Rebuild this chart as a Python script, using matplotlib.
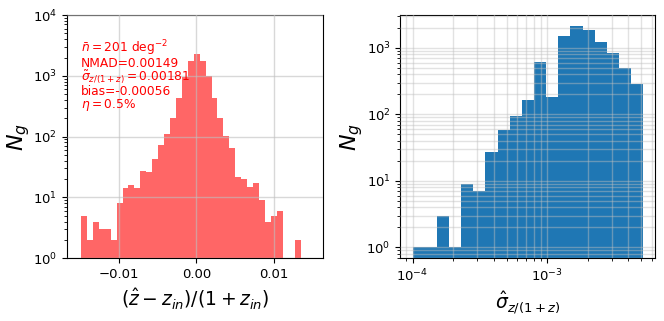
import numpy as np
import matplotlib
matplotlib.use("Agg")
import matplotlib.pyplot as plt

# left panel: histogram of (zhat - zin)/(1+zin), 37 bins
dz_lo, dz_hi, dz_nbins = -0.0149, 0.01345, 37
dz_counts = [5, 2, 4, 3, 3, 2, 8, 14, 16, 14, 27, 26, 43, 73, 110, 205, 430,
             960, 1750, 2320, 1780, 1000, 430, 205, 102, 66, 22, 20, 15, 17,
             9, 4, 5, 6, 0, 0, 2]

# right panel: histogram of sigma_z/(1+z), 19 log bins
sig_lo, sig_hi, sig_nbins = 1e-4, 5.16e-3, 19
sig_counts = [1, 1, 3, 1, 9, 7, 27, 58, 95, 164, 603, 180, 1496, 2113, 1820,
              1230, 822, 495, 285]

stats_text = ("$\\bar{n} = 201$ deg$^{-2}$\n"
              "NMAD=0.00149\n"
              "$\\tilde{\\sigma}_{z/(1+z)} = 0.00181$\n"
              "bias=-0.00056\n"
              "$\\eta = 0.5\\%$")

fig = plt.figure(figsize=(6.64, 3.21), dpi=100)
ax1 = fig.add_axes([0.101, 0.196, 0.386, 0.757])
ax2 = fig.add_axes([0.603, 0.196, 0.384, 0.757])

dz_edges = np.linspace(dz_lo, dz_hi, dz_nbins + 1)
ax1.hist(dz_edges[:-1], bins=dz_edges, weights=dz_counts, color="red", alpha=0.6)
ax1.set_yscale("log")
ax1.set_ylim(1, 1e4)
ax1.set_xlim(-0.0167, 0.0164)
ax1.set_xticks([-0.01, 0.0, 0.01])
ax1.set_axisbelow(False)
ax1.grid(True, color="0.75", alpha=0.6, lw=1)
ax1.set_xlabel(r"$(\hat{z}-z_{in})/(1+z_{in})$", fontsize=13.5)
ax1.set_ylabel(r"$N_g$", fontsize=16, labelpad=1)
ax1.tick_params(labelsize=9.5)
ax1.text(0.055, 0.905, stats_text, transform=ax1.transAxes, color="red",
         fontsize=8.8, va="top", ha="left", linespacing=0.9)

sig_edges = np.logspace(np.log10(sig_lo), np.log10(sig_hi), sig_nbins + 1)
ax2.hist(sig_edges[:-1] * 1.0001, bins=sig_edges, weights=sig_counts, color="C0")
ax2.set_xscale("log")
ax2.set_yscale("log")
ax2.set_ylim(0.69, 3100)
ax2.set_xlim(10 ** -4.09, 10 ** -2.198)
ax2.set_axisbelow(False)
ax2.grid(True, which="both", color="0.75", alpha=0.45, lw=1)
ax2.set_xlabel(r"$\hat{\sigma}_{z/(1+z)}$", fontsize=13.5)
ax2.set_ylabel(r"$N_g$", fontsize=16, labelpad=1)
ax2.tick_params(labelsize=9.5)

fig.savefig("out.png", dpi=100)
